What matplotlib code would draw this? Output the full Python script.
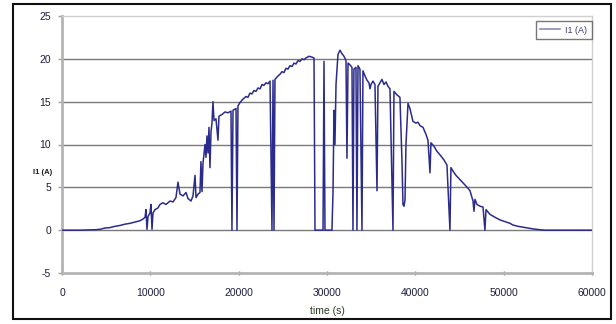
import matplotlib
matplotlib.use("Agg")
import matplotlib.pyplot as plt
from matplotlib.lines import Line2D
from matplotlib.patches import Rectangle

plt.rcParams['font.family'] = ['Liberation Sans', 'DejaVu Sans']

# time (s)
time_s = [0, 2040, 3740, 4300, 4870, 5430, 6000, 6570, 7130, 7700, 8260, 8830, 9170, 9400,
          9510, 9620, 9740, 9960, 10070, 10190, 10300, 10530, 10870, 11090, 11430, 11770,
          12230, 12570, 12900, 13130, 13360, 13700, 14040, 14260, 14600, 14830, 15060, 15170,
          15400, 15620, 15730, 15850, 15960, 16190, 16300, 16410, 16530, 16640, 16750, 16870,
          16980, 17090, 17210, 17430, 17660, 17770, 18110, 18450, 18790, 19130, 19240, 19360,
          19700, 19810, 19920, 20150, 20490, 20830, 21050, 21280, 21500, 21730, 21960, 22190,
          22420, 22640, 22860, 23090, 23320, 23550,
          23770, 23890, 24000, 24110, 24450, 24680, 24900, 25130, 25360, 25580, 25810, 26040,
          26260, 26490, 26720, 26940, 27170, 27400, 27620,
          27960, 28300, 28530, 28640, 29210, 29550, 29660, 29770, 30340, 30560, 30680, 30790,
          30900, 31020, 31240, 31470, 31700, 31920, 32150, 32260, 32380, 32600, 32830, 32940,
          33050, 33280, 33390, 33510, 33730, 33960, 34070, 34300, 34530, 34750, 34870, 34980,
          35210, 35430, 35660, 35770, 36000, 36220, 36450, 36680, 36900, 37130, 37470, 37580,
          37920, 38260, 38490, 38600, 38710, 38830, 38940, 39170, 39390, 39730, 40070, 40300,
          40530, 40870, 41200, 41430, 41660, 41770, 42110, 42450, 42790, 43240, 43580, 43920,
          44030, 44260, 44600, 45050, 45510, 45960, 46190, 46530, 46640, 46750, 46980, 47320,
          47660, 47880, 48000, 48450, 49020, 49580, 50150, 50710, 51050, 51620, 52190, 52750,
          53320, 54110, 54680, 60000]

# I1 (A)
current_a = [0, 0, 0.05, 0.1, 0.25, 0.3, 0.45, 0.55, 0.7, 0.8, 0.95, 1.1, 1.3, 1.5,
             2.4, 0.1, 1.6, 2.0, 3.0, 0.1, 2.0, 2.4, 2.6, 3.0, 3.2, 3.0,
             3.4, 3.3, 3.8, 5.6, 4.2, 4.0, 4.4, 3.7, 3.4, 4.0, 6.4, 3.8,
             4.2, 4.4, 8.0, 4.5, 7.8, 10.0, 8.5, 11.0, 9.0, 12.0, 7.3, 11.5,
             12.5, 15.0, 12.8, 13.0, 10.5, 13.3, 13.5, 13.8, 13.7, 13.9, 0, 14.0,
             14.2, 0, 14.5, 14.9, 15.3, 15.6, 15.5, 16.0, 15.9, 16.3, 16.2, 16.6,
             16.5, 17.0, 16.9, 17.2, 17.1, 17.4,
             0, 17.5, 0, 17.6, 18.0, 18.2, 18.5, 18.4, 18.9, 18.8, 19.2, 19.1,
             19.5, 19.4, 19.8, 19.7, 20.0, 19.9, 20.1,
             20.3, 20.2, 20.1, 0, 0, 0, 19.7, 0, 0, 0, 4.4, 14.0,
             10.0, 17.0, 20.5, 21.0, 20.6, 20.3, 19.8, 8.4, 19.5, 19.3, 19.0, 0,
             18.8, 19.0, 0, 19.2, 18.8, 0, 18.6, 18.0, 17.5, 17.2, 16.5, 17.0,
             17.4, 17.0, 4.6, 16.8, 17.2, 17.6, 17.0, 17.3, 16.8, 16.5, 0, 16.2,
             15.8, 15.5, 8.0, 3.0, 2.8, 3.5, 10.0, 14.8, 14.2, 12.7, 12.5, 12.6,
             12.2, 12.0, 11.2, 10.5, 6.7, 10.2, 9.8, 9.2, 8.8, 8.2, 7.6, 0,
             7.3, 6.9, 6.4, 5.9, 5.4, 4.9, 4.6, 3.4, 2.2, 3.6, 3.0, 2.8,
             2.7, 0, 2.4, 1.85, 1.5, 1.2, 1.0, 0.8, 0.6, 0.45, 0.35, 0.25,
             0.15, 0.05, 0, 0]

x_ticks = [0, 10000, 20000, 30000, 40000, 50000, 60000]
y_ticks = [-5, 0, 5, 10, 15, 20, 25]
x_label = "time (s)"
y_label = "I1 (A)"
series_name = "I1 (A)"

fig = plt.figure(figsize=(6.16, 3.24), dpi=100)
ax = fig.add_axes([62/616, 1-273/324, 530/616, 257/324])

line_col = '#2b2b8c'
ax.plot(time_s, current_a, color=line_col, lw=1.1, zorder=3)

ax.set_xlim(0, 60000)
ax.set_ylim(-5, 25)
ax.set_xticks(x_ticks)
ax.set_yticks(y_ticks)
ax.set_xticklabels([str(v) for v in x_ticks])
ax.set_yticklabels([str(v) for v in y_ticks])

for y in [0, 5, 10, 15, 20]:
    ax.axhline(y, color='#7a7a7a', lw=1.0, zorder=1)

ax.spines['left'].set_color('#b4b4b4')
ax.spines['left'].set_linewidth(2.0)
ax.spines['bottom'].set_color('#b4b4b4')
ax.spines['bottom'].set_linewidth(2.0)
ax.spines['top'].set_color('#cfcfcf')
ax.spines['top'].set_linewidth(1.0)
ax.spines['right'].set_color('#cfcfcf')
ax.spines['right'].set_linewidth(1.0)

txt_col = '#1c1c3c'
ax.tick_params(axis='y', direction='out', length=3, width=1, color='#a0a0a0',
               labelsize=7.5, labelcolor=txt_col, pad=5)
ax.tick_params(axis='x', direction='inout', length=3, width=1, color='#808080',
               labelsize=7.5, labelcolor=txt_col, pad=9)

ax.set_xlabel(x_label, fontsize=7.5, color='#2a3a20', labelpad=6)
fig.text(43/616, 1-172/324, y_label, fontsize=5.5, fontweight='bold', color='#1a1a1a',
         ha='center', va='center')

handle = Line2D([0], [0], color='#8a8ab0', lw=1.2)
leg = ax.legend([handle], [series_name], loc='upper right', bbox_to_anchor=(1.0, 0.98),
                borderaxespad=0, fontsize=6.5, frameon=True, fancybox=False,
                handlelength=2.2, handletextpad=0.6, borderpad=0.5)
leg.get_frame().set_edgecolor('#555555')
leg.get_frame().set_linewidth(1.0)
for t in leg.get_texts():
    t.set_color('#3a3a70')

fig.patches.append(Rectangle((13/616, 1-319/324), (611-13)/616, (319-4)/324,
                             transform=fig.transFigure, fill=False,
                             edgecolor='#111111', lw=1.5))

fig.savefig('out.png', dpi=100)
